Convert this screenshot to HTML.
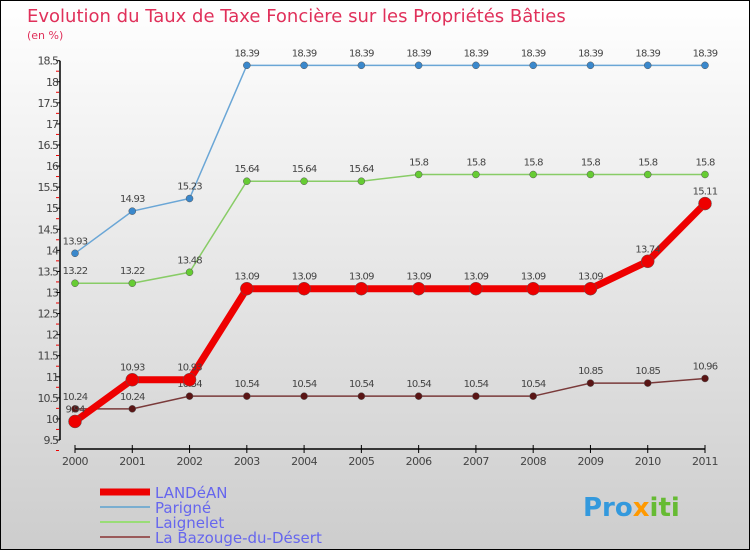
<!DOCTYPE html>
<html><head><meta charset="utf-8"><style>
body{margin:0;background:#fff}
svg{display:block;font-family:"DejaVu Sans","Liberation Sans",sans-serif}
</style></head><body>
<svg id="c" width="750" height="550" viewBox="0 0 750 550">
<defs><linearGradient id="bg" x1="0" y1="0" x2="0" y2="1"><stop offset="0" stop-color="#ffffff"/><stop offset="1" stop-color="#cdcdcd"/></linearGradient></defs>
<rect x="0.5" y="0.5" width="749" height="549" fill="url(#bg)" stroke="#000"/>
<text x="27" y="22" font-size="18" fill="#e0305a">Evolution du Taux de Taxe Foncière sur les Propriétés Bâties</text>
<text x="27" y="39" font-size="11" fill="#e0305a">(en %)</text>
<g id="axes"></g><g id="series"></g>
<g>
<line x1="100" y1="492" x2="150" y2="492" stroke="#e00" stroke-width="7"/>
<text x="155" y="498" font-size="15" fill="#6666ee">LANDéAN</text>
<line x1="100" y1="507" x2="150" y2="507" stroke="#7aaed0" stroke-width="2"/>
<text x="155" y="513" font-size="15" fill="#6666ee">Parigné</text>
<line x1="100" y1="522" x2="150" y2="522" stroke="#99dd77" stroke-width="2"/>
<text x="155" y="528" font-size="15" fill="#6666ee">Laignelet</text>
<line x1="100" y1="537" x2="150" y2="537" stroke="#9a5a5a" stroke-width="2"/>
<text x="155" y="543" font-size="15" fill="#6666ee">La Bazouge-du-Désert</text>
</g>
<text x="583" y="516" font-size="26" font-weight="bold"><tspan fill="#3399dd">Pro</tspan><tspan fill="#ff9900">x</tspan><tspan fill="#66bb33">iti</tspan></text>
</svg>
<script>
const years=[2000,2001,2002,2003,2004,2005,2006,2007,2008,2009,2010,2011];
const landean=[9.94,10.93,10.93,13.09,13.09,13.09,13.09,13.09,13.09,13.09,13.74,15.11];
const parigne=[13.93,14.93,15.23,18.39,18.39,18.39,18.39,18.39,18.39,18.39,18.39,18.39];
const laignelet=[13.22,13.22,13.48,15.64,15.64,15.64,15.8,15.8,15.8,15.8,15.8,15.8];
const bazouge=[10.24,10.24,10.54,10.54,10.54,10.54,10.54,10.54,10.54,10.85,10.85,10.96];
const yTicks=[9.5,10,10.5,11,11.5,12,12.5,13,13.5,14,14.5,15,15.5,16,16.5,17,17.5,18,18.5];
const NS="http://www.w3.org/2000/svg";
const xS=i=>75+i*(630/11);
const yS=v=>440-(v-9.5)*(379.3/9);
function mk(tag,at,parent){const e=document.createElementNS(NS,tag);for(const k in at)e.setAttribute(k,at[k]);parent.appendChild(e);return e;}
const ax=document.getElementById('axes');
let e=mk('line',{x1:60,y1:yS(18.5),x2:60,y2:yS(9.5),stroke:'#000','stroke-width':1.5},ax);


yTicks.forEach(t=>{
 let l=mk('line',{x1:56,x2:60,y1:yS(t),y2:yS(t),stroke:'#000'},ax);
 
 
 let m=mk('line',{x1:56,x2:59,y1:yS(t)+10.5,y2:yS(t)+10.5,stroke:'#e00'},ax);
 
 
 let tx=mk('text',{x:58,y:yS(t)+4,'font-size':11,fill:'#444','text-anchor':'end','letter-spacing':'-1'},ax);
 tx.textContent=String(t);
 
 
});
e=mk('line',{x1:xS(0),x2:xS(11),y1:449,y2:449,stroke:'#000','stroke-width':1.5},ax);


years.forEach((y,i)=>{
 let l=mk('line',{x1:xS(i),x2:xS(i),y1:445,y2:453,stroke:'#000'},ax);
 
 
 let tx=mk('text',{x:xS(i),y:465,'font-size':11,fill:'#444','text-anchor':'middle','letter-spacing':'-0.5'},ax);
 tx.textContent=String(y);
 
 
});
const sg=document.getElementById('series');
function draw(vals,name,color,w,r,dot){
 const g=mk('g',{},sg);
 
 
 let p=mk('polyline',{points:vals.map((v,i)=>xS(i)+','+yS(v)).join(' '),fill:'none',stroke:color,'stroke-width':w},g);
 
 
 vals.forEach((v,i)=>{
  let c=mk('circle',{cx:xS(i),cy:yS(v),r:r,fill:dot,stroke:'#555','stroke-width':0.5},g);
  
  
  let t=mk('text',{x:xS(i),y:yS(v)-9,'font-size':10,fill:'#444','text-anchor':'middle','letter-spacing':'-0.8'},g);
  t.textContent=String(v);
  
  
 });
}
draw(bazouge,'bazouge','#7a3a3a',1.5,3.5,'#5a1515');
draw(laignelet,'laignelet','#88cc66',1.5,3.5,'#66cc33');
draw(parigne,'parigne','#6aa6d6',1.5,3.5,'#3a88cc');
draw(landean,'landean','#ee0000',7,6.5,'#ee0000');
</script>
</body></html>
